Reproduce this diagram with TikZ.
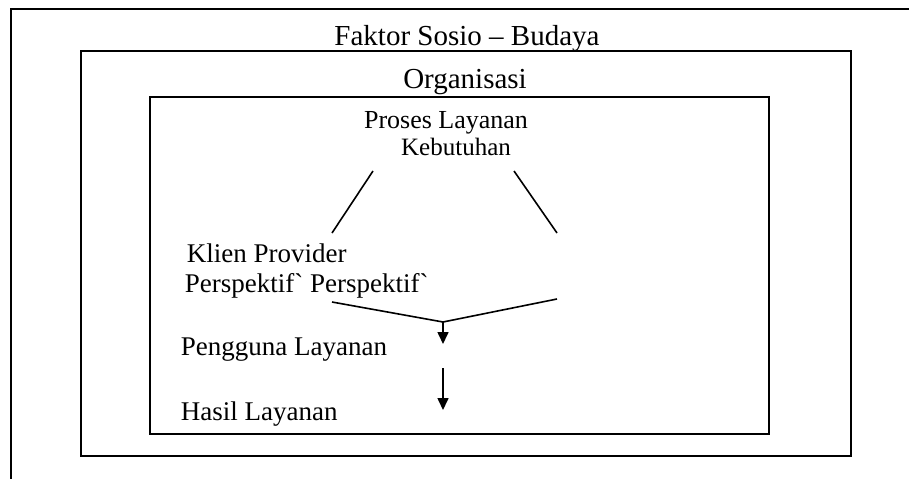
\documentclass[tikz,border=0pt]{standalone}
\usepackage{fontspec}
\setmainfont{Liberation Serif}
\usetikzlibrary{arrows.meta,positioning}

\begin{document}
\begin{tikzpicture}[x=1pt,y=-1pt,line width=1.6pt,
	big/.style={font=\fontsize{29}{33}\selectfont, inner sep=0pt, anchor=base},
	lbl/.style={font=\fontsize{27}{31}\selectfont, inner sep=0pt, anchor=base west},
	tip/.style={-{Triangle[width=11pt,length=12pt]}}]
	\useasboundingbox (0,0) rectangle (909,479);
	\fill [white] (0,0) rectangle (909,479);

	% frames
	\draw (909,9) -- (11,9) -- (11,479);
	\draw (81,51) rectangle (851,456);
	\draw (150,97) rectangle (769,434);

	\node (A) [big] at (467,45) {Faktor Sosio -- Budaya};
	\node (B) [big] at (465,88) {Organisasi};
	\node (C) [lbl, anchor=base, font=\fontsize{26}{30}\selectfont] at (446,128) {Proses Layanan};
	\node (D) [lbl, anchor=base, font=\fontsize{25}{29}\selectfont] at (456,155) {Kebutuhan};
	\node (E) [lbl] at (186,262) {Klien Provider};
	\node (F) [lbl] at (184,292) {Perspektif\textasciigrave{} Perspektif\textasciigrave};
	\node (G) [lbl] at (180,355) {Pengguna Layanan};
	\node (H) [lbl] at (180,420) {Hasil Layanan};

	\coordinate (a) at (373,171);
	\coordinate (b) at (332,233);
	\coordinate (c) at (514,171);
	\coordinate (d) at (557,233);
	\coordinate (e) at (332,302);
	\coordinate (f) at (557,299);
	\coordinate (g) at (443,322);
	\coordinate (h) at (443,344);
	\coordinate (i) at (443,368);
	\coordinate (j) at (443,410);

	\draw (a) -- (b);
	\draw (c) -- (d);
	\draw (e) -- (g) -- (f);
	\draw [tip] (g) -- (h);
	\draw [tip] (i) -- (j);

\end{tikzpicture}
\end{document}
